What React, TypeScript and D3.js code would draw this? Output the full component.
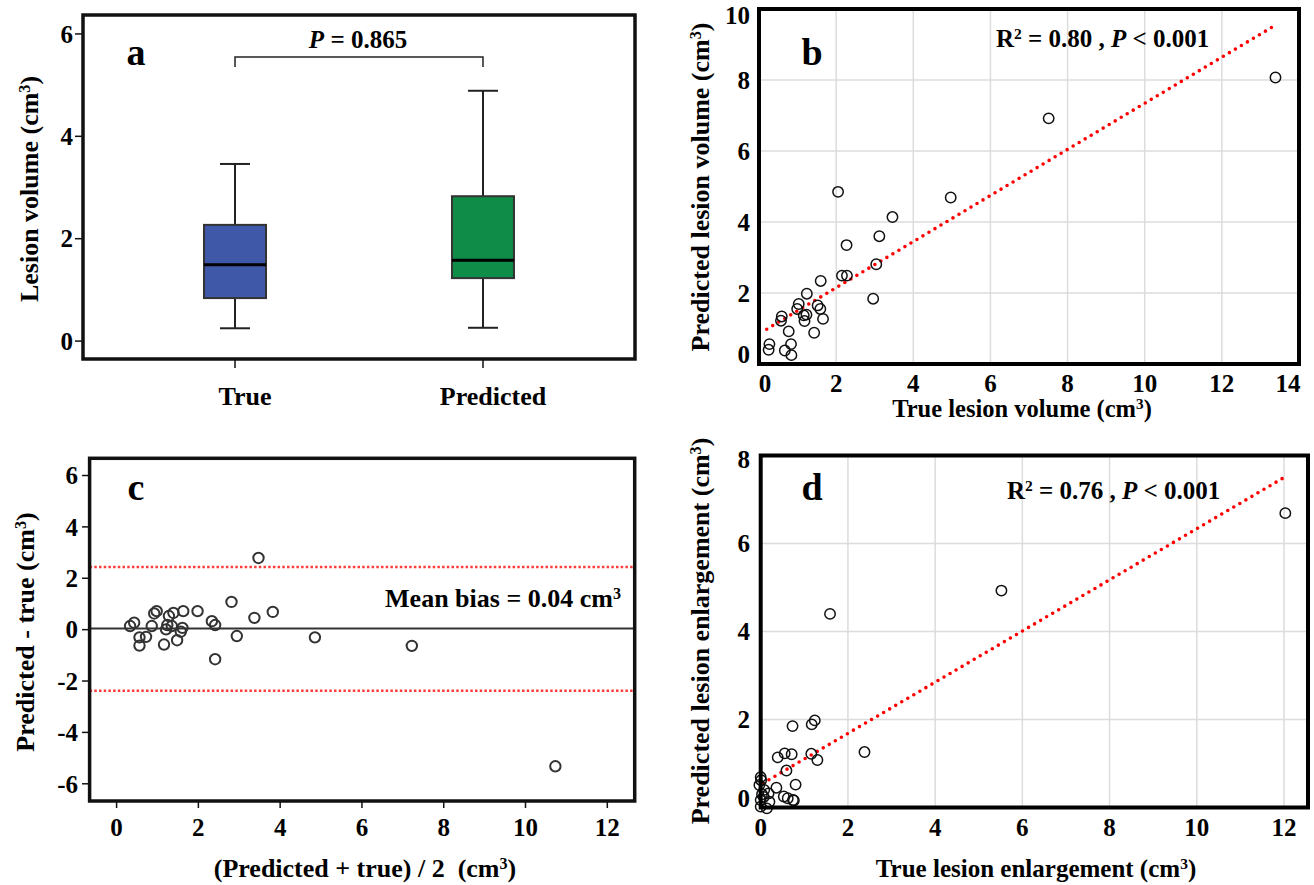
import React from "react";
import * as d3 from "d3";

// ---------- Panel a : box plot ----------
const boxCategories = ["True", "Predicted"];
const boxMin = [0.25, 0.26];
const boxQ1 = [0.84, 1.23];
const boxMedian = [1.49, 1.58];
const boxQ3 = [2.27, 2.83];
const boxMax = [3.46, 4.89];
const boxColors = ["#3f58a8", "#0e8c48"];
const aTicks = [0, 2, 4, 6];

// ---------- Panel b : predicted vs true volume ----------
const bTrueVol = [13.39, 7.51, 4.97, 2.05, 3.46, 3.12, 2.27, 3.04, 2.15, 2.28, 1.6, 2.96, 1.24, 1.03, 0.99, 1.52, 1.59, 0.59, 0.57, 1.16, 1.23, 1.18, 1.66, 0.77, 1.43, 0.27, 0.25, 0.83, 0.67, 0.84];
const bPredVol = [8.07, 6.92, 4.69, 4.85, 4.14, 3.6, 3.35, 2.81, 2.49, 2.49, 2.34, 1.84, 1.98, 1.69, 1.55, 1.65, 1.55, 1.34, 1.22, 1.37, 1.39, 1.21, 1.27, 0.92, 0.88, 0.56, 0.4, 0.56, 0.38, 0.25];
const bFitX = [0.2, 13.35];
const bFitY = [0.98, 9.52];
const bXTicks = [0, 2, 4, 6, 8, 10, 12, 14];
const bYTicks = [0, 2, 4, 6, 8, 10];

// ---------- Panel c : Bland-Altman ----------
const cMean = [0.33, 0.43, 0.56, 0.56, 0.72, 0.86, 0.92, 0.98, 1.16, 1.21, 1.24, 1.28, 1.39, 1.35, 1.48, 1.57, 1.61, 1.63, 1.98, 2.33, 2.41, 2.41, 2.81, 2.94, 3.37, 3.82, 4.85, 7.22, 3.47, 10.73];
const cDiff = [0.14, 0.27, -0.3, -0.62, -0.28, 0.14, 0.63, 0.72, -0.58, 0.01, 0.18, 0.53, 0.65, 0.14, -0.41, -0.08, 0.07, 0.72, 0.72, 0.33, 0.18, -1.15, 1.08, -0.25, 0.46, 0.69, -0.3, -0.63, 2.79, -5.32];
const cBias = 0.04;
const cLimits = [2.44, -2.38];
const cXTicks = [0, 2, 4, 6, 8, 10, 12];
const cYTicks = [-6, -4, -2, 0, 2, 4, 6];

// ---------- Panel d : predicted vs true enlargement ----------
const dTrueEnl = [12.03, 5.52, 1.59, 2.38, 0.73, 1.17, 1.24, 0.39, 0.55, 0.71, 1.16, 1.3, 0.59, 0.8, 0.36, 0.53, 0.62, 0.74, 0.76, 0.0, 0.01, -0.03, 0.08, 0.18, 0.0, 0.07, 0.2, 0.0, 0.14, 0.03];
const dPredEnl = [6.69, 4.93, 4.4, 1.26, 1.85, 1.89, 1.98, 1.14, 1.23, 1.21, 1.22, 1.08, 0.84, 0.52, 0.45, 0.25, 0.21, 0.17, 0.16, 0.69, 0.62, 0.51, 0.4, 0.32, 0.17, 0.24, 0.13, 0.02, -0.02, 0.3];
const dFitX = [0.05, 12.0];
const dFitY = [0.55, 7.5];
const dXTicks = [0, 2, 4, 6, 8, 10, 12];
const dYTicks = [0, 2, 4, 6, 8];

const FONT = "'Liberation Serif', 'Times New Roman', serif";

const Sup = ({ t }: { t: string }) => (
  <tspan baselineShift="super" fontSize="62%">{t}</tspan>
);

const clamp = (v: number, lo: number, hi: number) => Math.max(lo, Math.min(hi, v));

function PanelA() {
  const x = d3.scalePoint<string>().domain(boxCategories).range([83, 635]).padding(0.613);
  const y = d3.scaleLinear().domain([-0.35, 6.37]).range([359, 15]);
  const bw = 62;
  const cw = 30;
  const xl = x(boxCategories[0])!;
  const xr = x(boxCategories[1])!;
  return (
    <g>
      {aTicks.map((t) => (
        <g key={t}>
          <line x1={75} x2={83} y1={y(t)} y2={y(t)} stroke="#111" strokeWidth={1.5} />
          <text x={73} y={y(t)} dy="0.35em" textAnchor="end" fontSize={25} fontWeight="bold">{t}</text>
        </g>
      ))}
      {boxCategories.map((c, i) => {
        const cx = x(c)!;
        return (
          <g key={c}>
            <line x1={cx} x2={cx} y1={359} y2={368} stroke="#111" strokeWidth={1.5} />
            <text x={cx + 10} y={405} textAnchor="middle" fontSize={26} fontWeight="bold">{c}</text>
            <line x1={cx} x2={cx} y1={y(boxMax[i])} y2={y(boxQ3[i])} stroke="#222" strokeWidth={2} />
            <line x1={cx} x2={cx} y1={y(boxQ1[i])} y2={y(boxMin[i])} stroke="#222" strokeWidth={2} />
            <line x1={cx - cw / 2} x2={cx + cw / 2} y1={y(boxMax[i])} y2={y(boxMax[i])} stroke="#222" strokeWidth={2} />
            <line x1={cx - cw / 2} x2={cx + cw / 2} y1={y(boxMin[i])} y2={y(boxMin[i])} stroke="#222" strokeWidth={2} />
            <rect x={cx - bw / 2} y={y(boxQ3[i])} width={bw} height={y(boxQ1[i]) - y(boxQ3[i])} fill={boxColors[i]} stroke="#333" strokeWidth={2} />
            <line x1={cx - bw / 2} x2={cx + bw / 2} y1={y(boxMedian[i])} y2={y(boxMedian[i])} stroke="#000" strokeWidth={3} />
          </g>
        );
      })}
      <path d={`M${xl},67 V57 H${xr} V67`} fill="none" stroke="#222" strokeWidth={1.5} />
      <text x={358} y={48} textAnchor="middle" fontSize={25} fontWeight="bold">
        <tspan fontStyle="italic">P</tspan> = 0.865
      </text>
      <text x={136} y={65} textAnchor="middle" fontSize={38} fontWeight="bold">a</text>
      <text transform="translate(29,189) rotate(-90)" dy="0.35em" textAnchor="middle" fontSize={26} fontWeight="bold">
        Lesion volume (cm<Sup t="3" />)
      </text>
      <rect x={83} y={15} width={552} height={344} fill="none" stroke="#111" strokeWidth={3.5} />
    </g>
  );
}

function RedFit({ x, y, xs, ys }: any) {
  return (
    <line x1={x(xs[0])} y1={y(ys[0])} x2={x(xs[1])} y2={y(ys[1])} stroke="#ff0000" strokeWidth={3.6} strokeDasharray="0 7" strokeLinecap="round" />
  );
}

function PanelB() {
  const x = d3.scaleLinear().domain([0, 14]).range([759, 1299]);
  const y = d3.scaleLinear().domain([0, 10]).range([364, 9]);
  return (
    <g>
      {bXTicks.slice(1, -1).map((t) => (
        <line key={"gx" + t} x1={x(t)} x2={x(t)} y1={9} y2={364} stroke="#dcdcdc" strokeWidth={1.5} />
      ))}
      {bYTicks.slice(1, -1).map((t) => (
        <line key={"gy" + t} x1={759} x2={1299} y1={y(t)} y2={y(t)} stroke="#dcdcdc" strokeWidth={1.5} />
      ))}
      {bXTicks.map((t) => (
        <text key={"tx" + t} x={clamp(x(t), 765, 1288)} y={392} textAnchor="middle" fontSize={25} fontWeight="bold">{t}</text>
      ))}
      {bYTicks.map((t) => (
        <text key={"ty" + t} x={750} y={clamp(y(t), 15, 354)} dy="0.35em" textAnchor="end" fontSize={25} fontWeight="bold">{t}</text>
      ))}
      <RedFit x={x} y={y} xs={bFitX} ys={bFitY} />
      {bTrueVol.map((v, i) => (
        <circle key={i} cx={x(v)} cy={y(bPredVol[i])} r={5.2} fill="none" stroke="#111" strokeWidth={1.5} />
      ))}
      <rect x={759} y={9} width={540} height={355} fill="none" stroke="#000" strokeWidth={4} />
      <text x={812} y={65} textAnchor="middle" fontSize={38} fontWeight="bold">b</text>
      <text x={996} y={47} fontSize={25} fontWeight="bold">
        R<Sup t="2" /> = 0.80 , <tspan fontStyle="italic">P</tspan> &lt; 0.001
      </text>
      <text x={1022} y={417} textAnchor="middle" fontSize={24.5} fontWeight="bold">
        True lesion volume (cm<Sup t="3" />)
      </text>
      <text transform="translate(700,187) rotate(-90)" dy="0.35em" textAnchor="middle" fontSize={26} fontWeight="bold">
        Predicted lesion volume (cm<Sup t="3" />)
      </text>
    </g>
  );
}

function PanelC() {
  const x = d3.scaleLinear().domain([-0.66, 12.67]).range([89.6, 634.7]);
  const y = d3.scaleLinear().domain([-6.67, 6.67]).range([801, 458.3]);
  return (
    <g>
      {cYTicks.map((t) => (
        <g key={"y" + t}>
          <line x1={82} x2={89.6} y1={y(t)} y2={y(t)} stroke="#111" strokeWidth={1.5} />
          <text x={78} y={y(t)} dy="0.35em" textAnchor="end" fontSize={25} fontWeight="bold">{t}</text>
        </g>
      ))}
      {cXTicks.map((t) => (
        <g key={"x" + t}>
          <line x1={x(t)} x2={x(t)} y1={801} y2={808} stroke="#111" strokeWidth={1.5} />
          <text x={x(t)} y={836} textAnchor="middle" fontSize={25} fontWeight="bold">{t}</text>
        </g>
      ))}
      {cLimits.map((l) => (
        <line key={l} x1={89.6} x2={634.7} y1={y(l)} y2={y(l)} stroke="#ff3c3c" strokeWidth={2.5} strokeDasharray="2.5 2.2" />
      ))}
      <line x1={89.6} x2={634.7} y1={y(cBias)} y2={y(cBias)} stroke="#333" strokeWidth={2} />
      {cMean.map((m, i) => (
        <circle key={i} cx={x(m)} cy={y(cDiff[i])} r={5.2} fill="none" stroke="#333" strokeWidth={2} />
      ))}
      <rect x={89.6} y={458.3} width={545.1} height={342.7} fill="none" stroke="#111" strokeWidth={3.5} />
      <text x={136} y={500} textAnchor="middle" fontSize={38} fontWeight="bold">c</text>
      <text x={621} y={607} textAnchor="end" fontSize={26} fontWeight="bold">
        Mean bias = 0.04 cm<Sup t="3" />
      </text>
      <text x={365} y={877} textAnchor="middle" fontSize={26} fontWeight="bold">
        (Predicted + true) / 2{"\u00a0\u00a0"}(cm<Sup t="3" />)
      </text>
      <text transform="translate(25,632) rotate(-90)" dy="0.35em" textAnchor="middle" fontSize={26} fontWeight="bold">
        Predicted - true (cm<Sup t="3" />)
      </text>
    </g>
  );
}

function PanelD() {
  const x = d3.scaleLinear().domain([0, 12.55]).range([760.7, 1308]);
  const y = d3.scaleLinear().domain([0, 8]).range([807.5, 455.5]);
  return (
    <g>
      {dXTicks.slice(1).map((t) => (
        <line key={"gx" + t} x1={x(t)} x2={x(t)} y1={455.5} y2={807.5} stroke="#dcdcdc" strokeWidth={1.5} />
      ))}
      {dYTicks.slice(1, -1).map((t) => (
        <line key={"gy" + t} x1={760.7} x2={1308} y1={y(t)} y2={y(t)} stroke="#dcdcdc" strokeWidth={1.5} />
      ))}
      {dXTicks.map((t) => (
        <text key={"tx" + t} x={x(t)} y={836} textAnchor="middle" fontSize={25} fontWeight="bold">{t}</text>
      ))}
      {dYTicks.map((t) => (
        <text key={"ty" + t} x={750} y={clamp(y(t), 459, 798)} dy="0.35em" textAnchor="end" fontSize={25} fontWeight="bold">{t}</text>
      ))}
      <RedFit x={x} y={y} xs={dFitX} ys={dFitY} />
      {dTrueEnl.map((v, i) => (
        <circle key={i} cx={x(v)} cy={y(dPredEnl[i])} r={5.2} fill="none" stroke="#111" strokeWidth={1.5} />
      ))}
      <rect x={760.7} y={455.5} width={547.3} height={352} fill="none" stroke="#000" strokeWidth={4} />
      <text x={812} y={500} textAnchor="middle" fontSize={38} fontWeight="bold">d</text>
      <text x={1007} y={499} fontSize={25} fontWeight="bold">
        R<Sup t="2" /> = 0.76 , <tspan fontStyle="italic">P</tspan> &lt; 0.001
      </text>
      <text x={1036} y={877} textAnchor="middle" fontSize={25} fontWeight="bold">
        True lesion enlargement (cm<Sup t="3" />)
      </text>
      <text transform="translate(700,631) rotate(-90)" dy="0.35em" textAnchor="middle" fontSize={26} fontWeight="bold">
        Predicted lesion enlargement (cm<Sup t="3" />)
      </text>
    </g>
  );
}

export default function App() {
  return (
    <svg
      width={1314}
      height={885}
      viewBox="0 0 1314 885"
      style={{ position: "absolute", left: 0, top: 0, background: "#fff" }}
      fontFamily={FONT}
      fill="#000"
    >
      <rect x={0} y={0} width={1314} height={885} fill="#fff" />
      <PanelA />
      <PanelB />
      <PanelC />
      <PanelD />
    </svg>
  );
}
